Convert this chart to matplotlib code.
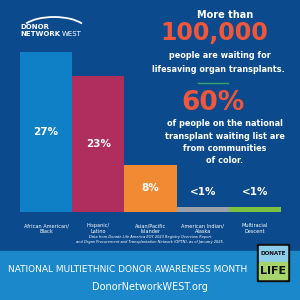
import matplotlib.pyplot as plt
from matplotlib.patches import Rectangle, Arc

categories = ['African American/\nBlack', 'Hispanic/\nLatino', 'Asian/Pacific\nIslander',
              'American Indian/\nAlaska', 'Multiracial\nDescent']
values = [27, 23, 8, 0.8, 0.8]
labels = ['27%', '23%', '8%', '<1%', '<1%']
colors = ['#0f7fc6', '#b02e5e', '#f08b33', '#9aa1a9', '#7dc143']

dark = '#0b4a8c'
light = '#1b88cc'
red = '#f2573b'

fig = plt.figure(figsize=(3, 3), dpi=100)
fig.patch.set_facecolor(dark)

# pixel-space overlay for texts and decorations
bg = fig.add_axes([0, 0, 1, 1])
bg.set_xlim(0, 300)
bg.set_ylim(300, 0)
bg.axis('off')
bg.add_patch(Rectangle((0, 251), 300, 49, color=light, zorder=0))

# logo top left
bg.add_patch(Arc((54, 31), 66, 28, theta1=195, theta2=345, color='white', lw=1.3))
bg.text(20, 27, 'DONOR', color='white', fontsize=5, fontweight='bold', va='center')
bg.text(20, 34, 'NETWORK', color='white', fontsize=5, fontweight='bold', va='center')
bg.text(62, 34, 'WEST', color='white', fontsize=5, va='center')

# right side text
bg.text(225, 15, 'More than', color='white', fontsize=7, fontweight='bold', ha='center', va='center')
bg.text(214, 33, '100,000', color=red, fontsize=17, fontweight='bold', ha='center', va='center')
bg.text(220, 56, 'people are waiting for', color='white', fontsize=5.9, fontweight='bold', ha='center', va='center')
bg.text(218, 70, 'lifesaving organ transplants.', color='white', fontsize=5.9, fontweight='bold', ha='center', va='center')
bg.plot([198, 228], [83, 83], color='#3aa36a', lw=1)
bg.text(213, 103, '60%', color=red, fontsize=19, fontweight='bold', ha='center', va='center')
for i, line in enumerate(['of people on the national', 'transplant waiting list are',
                          'from communities', 'of color.']):
    bg.text(225, 124 + i * 12.3, line, color='white', fontsize=5.9, fontweight='bold', ha='center', va='center')

# source note
bg.text(150, 237, 'Data from Donate Life America EOY 2023 Registry Overview Report',
        color='white', fontsize=2.6, style='italic', ha='center', va='center')
bg.text(150, 242.5, 'and Organ Procurement and Transplantation Network (OPTN), as of January 2025.',
        color='white', fontsize=2.6, style='italic', ha='center', va='center')

# footer
bg.text(128, 269, 'NATIONAL MULTIETHNIC DONOR AWARENESS MONTH', color='white', fontsize=6.5,
        family=['Liberation Sans Narrow', 'DejaVu Sans'], ha='center', va='center')
bg.text(150, 287, 'DonorNetworkWEST.org', color='white', fontsize=7, ha='center', va='center')

# donate life logo
bg.add_patch(Rectangle((257, 244), 32, 37, color='#111111', zorder=2))
bg.add_patch(Rectangle((259, 246), 28, 15, color='#8ccde9', zorder=3))
bg.add_patch(Rectangle((259, 262), 28, 17, color='#a8d46c', zorder=3))
bg.text(273, 253.5, 'DONATE', color='#111111', fontsize=4.1, fontweight='bold', ha='center', va='center', zorder=4)
bg.text(273, 271, 'LIFE', color='#111111', fontsize=8, fontweight='bold', ha='center', va='center', zorder=4)

# bar chart
ax = fig.add_axes([20 / 300, 88 / 300, 261 / 300, 160 / 300])
ax.patch.set_alpha(0)
x = range(len(values))
ax.bar(x, values, width=1.0, color=colors)
ax.set_xlim(-0.5, 4.5)
ax.set_ylim(0, 27)
ax.axis('off')
for xi, v, lab in zip(x, values, labels):
    ypos = v / 2 if v > 5 else v + 2.5
    ax.text(xi, ypos, lab, color='white', fontsize=7.5, fontweight='bold', ha='center', va='center')
for xi, cat in zip(x, categories):
    ax.text(xi, -1.9, cat, color='white', fontsize=3.6, ha='center', va='top', linespacing=1.3)

fig.savefig('out.png', dpi=100, facecolor=dark)
